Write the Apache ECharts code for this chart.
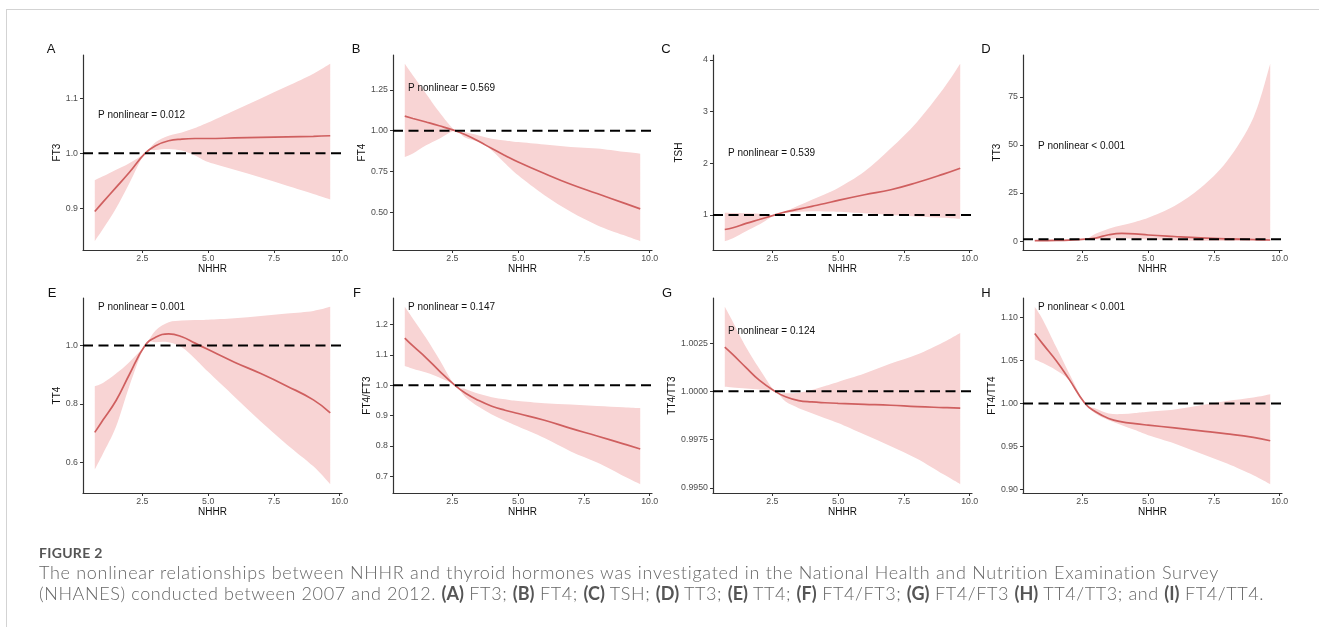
<!DOCTYPE html>
<html>
<head>
<meta charset="utf-8">
<title>NHHR and thyroid hormones</title>
<script src="https://cdn.jsdelivr.net/npm/echarts@6/dist/echarts.min.js"></script>
<style>
    body { margin: 0; background: #fff; }
    #wrap { position: relative; width: 1319px; height: 627px; overflow: hidden; }
    #main { position: absolute; left: 0; top: 0; width: 1319px; height: 627px; }
    #frame { position: absolute; left: 6px; top: 9px; right: -2px; bottom: -2px;
             border-top: 1px solid #d3d3d3; border-left: 1px solid #d3d3d3; pointer-events: none; }
    #cap { position: absolute; left: 39px; top: 544px; width: 1270px;
           font-family: Lato, "Open Sans", sans-serif; color: #666; }
    #cap .fig { font-size: 14px; font-weight: 700; color: #555; line-height: 18px; letter-spacing: 0.3px; }
    #cap .txt { font-size: 18px; font-weight: 300; line-height: 21px; white-space: nowrap; letter-spacing: 0.7px; }
    #cap .l2 { letter-spacing: 0.6px; }
    #cap b { font-weight: 700; color: #555; letter-spacing: 0; }
</style>
</head>
<body>
<div id="wrap">
    <div id="main"></div>
    <div id="frame"></div>
    <div id="cap">
        <div class="fig">FIGURE 2</div>
        <div class="txt">The nonlinear relationships between NHHR and thyroid hormones was investigated in the National Health and Nutrition Examination Survey<br><span class="l2">(NHANES) conducted between 2007 and 2012. <b>(A)</b> FT3; <b>(B)</b> FT4; <b>(C)</b> TSH; <b>(D)</b> TT3; <b>(E)</b> TT4; <b>(F)</b> FT4/FT3; <b>(G)</b> FT4/FT3 <b>(H)</b> TT4/TT3; and <b>(I)</b> FT4/TT4.</span></div>
    </div>
</div>
<script>
// NHHR values shared by every panel
var xs = [0.69, 1.0, 1.5, 2.0, 2.6, 3.0, 3.5, 4.0, 4.5, 5.0, 6.0, 7.0, 8.0, 9.0, 9.64];
var xTicks = [2.5, 5.0, 7.5, 10.0];

// A FT3
var ft3Fit = [0.894, 0.911, 0.938, 0.965, 1.0, 1.014, 1.023, 1.026, 1.027, 1.027, 1.028, 1.029, 1.030, 1.031, 1.032];
var ft3Low = [0.840, 0.862, 0.900, 0.945, 1.0, 1.006, 1.008, 1.005, 0.996, 0.984, 0.970, 0.956, 0.941, 0.926, 0.916];
var ft3Up  = [0.951, 0.958, 0.970, 0.982, 1.0, 1.020, 1.032, 1.038, 1.046, 1.056, 1.078, 1.100, 1.122, 1.145, 1.163];
var ft3Ticks = [0.9, 1.0, 1.1];

// B FT4
var ft4Fit = [1.089, 1.075, 1.053, 1.030, 1.0, 0.975, 0.935, 0.890, 0.848, 0.808, 0.737, 0.671, 0.614, 0.557, 0.520];
var ft4Low = [0.838, 0.860, 0.910, 0.951, 1.0, 0.957, 0.930, 0.879, 0.800, 0.726, 0.604, 0.502, 0.420, 0.359, 0.322];
var ft4Up  = [1.410, 1.339, 1.227, 1.114, 1.0, 0.990, 0.971, 0.950, 0.940, 0.930, 0.915, 0.900, 0.890, 0.870, 0.859];
var ft4Ticks = [0.50, 0.75, 1.00, 1.25];

// C TSH
var tshFit = [0.717, 0.750, 0.836, 0.910, 1.0, 1.057, 1.110, 1.165, 1.220, 1.281, 1.390, 1.487, 1.627, 1.790, 1.904];
var tshLow = [0.492, 0.550, 0.685, 0.813, 1.0, 1.040, 1.060, 1.070, 1.065, 1.060, 1.030, 1.000, 0.970, 0.945, 0.923];
var tshUp  = [1.040, 1.035, 1.030, 1.020, 1.0, 1.070, 1.180, 1.294, 1.400, 1.519, 1.838, 2.288, 2.800, 3.440, 3.923];
var tshTicks = [1, 2, 3, 4];

// D TT3
var tt3Fit = [0.2, 0.25, 0.35, 0.55, 1.0, 1.6, 3.3, 4.0, 3.8, 3.2, 2.4, 1.7, 1.2, 0.85, 0.6];
var tt3Low = [0.0, 0.05, 0.1, 0.3, 1.0, 1.0, 1.3, 1.5, 1.2, 0.8, 0.4, 0.2, 0.1, 0.05, 0.03];
var tt3Up  = [0.8, 0.75, 0.7, 0.8, 1.0, 3.8, 6.5, 8.3, 10.0, 12.1, 18.2, 27.7, 41.6, 64.1, 92.1];
var tt3Ticks = [0, 25, 50, 75];

// E TT4
var tt4Fit = [0.703, 0.745, 0.812, 0.900, 1.0, 1.028, 1.040, 1.030, 1.008, 0.986, 0.943, 0.904, 0.861, 0.814, 0.770];
var tt4Low = [0.576, 0.630, 0.723, 0.860, 1.0, 1.011, 1.011, 0.994, 0.955, 0.910, 0.825, 0.740, 0.661, 0.587, 0.526];
var tt4Up  = [0.861, 0.872, 0.904, 0.943, 1.0, 1.051, 1.079, 1.085, 1.087, 1.088, 1.093, 1.101, 1.109, 1.118, 1.132];
var tt4Ticks = [0.6, 0.8, 1.0];

// F FT4/FT3
var f43Fit = [1.156, 1.130, 1.091, 1.048, 1.0, 0.974, 0.950, 0.931, 0.918, 0.907, 0.885, 0.858, 0.833, 0.807, 0.790];
var f43Low = [1.064, 1.055, 1.042, 1.026, 1.0, 0.961, 0.929, 0.904, 0.883, 0.864, 0.826, 0.782, 0.745, 0.701, 0.674];
var f43Up  = [1.259, 1.220, 1.156, 1.086, 1.0, 0.988, 0.972, 0.961, 0.954, 0.948, 0.941, 0.937, 0.932, 0.928, 0.925];
var f43Ticks = [0.7, 0.8, 0.9, 1.0, 1.1, 1.2];

// G TT4/TT3
var t43Fit = [1.00229, 1.00190, 1.00123, 1.00058, 1.0, 0.99972, 0.99952, 0.99945, 0.99941, 0.99938, 0.99933, 0.99928, 0.99921, 0.99916, 0.99913];
var t43Low = [1.00024, 1.00020, 1.00015, 1.00010, 1.0, 0.99947, 0.99913, 0.99887, 0.99861, 0.99836, 0.99776, 0.99716, 0.99651, 0.99570, 0.99519];
var t43Up  = [1.00438, 1.00360, 1.00229, 1.00118, 1.0, 0.99990, 0.99993, 1.00007, 1.00028, 1.00049, 1.00092, 1.00144, 1.00191, 1.00255, 1.00303];
var t43Ticks = [0.9950, 0.9975, 1.0000, 1.0025];

// H FT4/TT4
var f4t4Fit = [1.0814, 1.0690, 1.0500, 1.0280, 1.0, 0.9903, 0.9826, 0.9786, 0.9765, 0.9748, 0.9716, 0.9682, 0.9647, 0.9605, 0.9566];
var f4t4Low = [1.0512, 1.0470, 1.0387, 1.0271, 1.0, 0.9884, 0.9806, 0.9748, 0.9690, 0.9631, 0.9535, 0.9419, 0.9302, 0.9166, 0.9062];
var f4t4Up  = [1.1123, 1.0970, 1.0658, 1.0349, 1.0, 0.9942, 0.9884, 0.9876, 0.9888, 0.9903, 0.9930, 0.9980, 1.0030, 1.0070, 1.0108];
var f4t4Ticks = [0.90, 0.95, 1.00, 1.05, 1.10];

var pTexts = ['P nonlinear = 0.012', 'P nonlinear = 0.569', 'P nonlinear = 0.539', 'P nonlinear < 0.001',
              'P nonlinear = 0.001', 'P nonlinear = 0.147', 'P nonlinear = 0.124', 'P nonlinear < 0.001'];

var lineColor = '#cf5f5f';
var bandColor = '#f8d4d4';
var fontName = '"Liberation Sans", Arial, sans-serif';

window.onload = function () {
    drawPanels();
};

// smooth path through pixel points (catmull-rom -> bezier)
var smoothPath = function (pts, moveFirst) {
    var d = moveFirst ? 'M' + pts[0][0] + ',' + pts[0][1] : 'L' + pts[0][0] + ',' + pts[0][1];
    for (var i = 0; i < pts.length - 1; i++) {
        var p0 = pts[i - 1] || pts[i];
        var p1 = pts[i];
        var p2 = pts[i + 1];
        var p3 = pts[i + 2] || p2;
        var c1x = p1[0] + (p2[0] - p0[0]) / 6, c1y = p1[1] + (p2[1] - p0[1]) / 6;
        var c2x = p2[0] - (p3[0] - p1[0]) / 6, c2y = p2[1] - (p3[1] - p1[1]) / 6;
        d += 'C' + c1x + ',' + c1y + ' ' + c2x + ',' + c2y + ' ' + p2[0] + ',' + p2[1];
    }
    return d;
};

var drawPanels = function () {
    var panels = [
        {letter: 'A', yName: 'FT3',     fit: ft3Fit,  low: ft3Low,  up: ft3Up,  ticks: ft3Ticks,  dec: 1, left: 83,   top: 55,  gap: 17, lx: 51,  ly: 49,  px: 98,   py: 115},
        {letter: 'B', yName: 'FT4',     fit: ft4Fit,  low: ft4Low,  up: ft4Up,  ticks: ft4Ticks,  dec: 2, left: 393,  top: 55,  gap: 17, lx: 356, ly: 49,  px: 408,  py: 88},
        {letter: 'C', yName: 'TSH',     fit: tshFit,  low: tshLow,  up: tshUp,  ticks: tshTicks,  dec: 0, left: 713,  top: 55,  gap: 29, lx: 666, ly: 49,  px: 728,  py: 153},
        {letter: 'D', yName: 'TT3',     fit: tt3Fit,  low: tt3Low,  up: tt3Up,  ticks: tt3Ticks,  dec: 0, left: 1023, top: 55,  gap: 21, lx: 986, ly: 49,  px: 1038, py: 146},
        {letter: 'E', yName: 'TT4',     fit: tt4Fit,  low: tt4Low,  up: tt4Up,  ticks: tt4Ticks,  dec: 1, left: 83,   top: 298, gap: 18, lx: 52,  ly: 293, px: 98,   py: 307},
        {letter: 'F', yName: 'FT4/FT3', fit: f43Fit,  low: f43Low,  up: f43Up,  ticks: f43Ticks,  dec: 1, left: 393,  top: 298, gap: 21, lx: 357, ly: 293, px: 408,  py: 307},
        {letter: 'G', yName: 'TT4/TT3', fit: t43Fit,  low: t43Low,  up: t43Up,  ticks: t43Ticks,  dec: 4, left: 713,  top: 298, gap: 31, lx: 667, ly: 293, px: 728,  py: 331},
        {letter: 'H', yName: 'FT4/TT4', fit: f4t4Fit, low: f4t4Low, up: f4t4Up, ticks: f4t4Ticks, dec: 2, left: 1023, top: 298, gap: 21, lx: 986, ly: 293, px: 1038, py: 307}
    ];

    // ggplot style 5% padding around the data
    var xMin = xs[0] - (xs[xs.length - 1] - xs[0]) * 0.05;
    var xMax = xs[xs.length - 1] + (xs[xs.length - 1] - xs[0]) * 0.05;

    var grid = [], xAxis = [], yAxis = [], series = [], graphic = [];

    panels.forEach(function (p, i) {
        var lo = Math.min.apply(null, p.low);
        var hi = Math.max.apply(null, p.up);
        var pad = (hi - lo) * 0.05;

        grid.push({left: p.left, top: p.top, width: 259, height: 195, containLabel: false, outerBoundsMode: 'none'});

        xAxis.push({
            gridIndex: i, type: 'value', min: xMin, max: xMax,
            name: 'NHHR', nameLocation: 'middle', nameGap: 12,
            nameTextStyle: {color: '#111', fontSize: 10, fontFamily: fontName},
            axisLine: {show: true, onZero: false, lineStyle: {color: '#333', width: 1.2}},
            axisTick: {show: true, length: 3, customValues: xTicks, lineStyle: {color: '#333', width: 1}},
            axisLabel: {customValues: xTicks, color: '#4d4d4d', fontSize: 8.8, margin: 4, fontFamily: fontName,
                formatter: function (v) { return v.toFixed(1); }},
            splitLine: {show: false}
        });

        yAxis.push({
            gridIndex: i, type: 'value', min: lo - pad, max: hi + pad,
            name: p.yName, nameLocation: 'middle', nameGap: p.gap,
            nameTextStyle: {color: '#111', fontSize: 10, fontFamily: fontName},
            axisLine: {show: true, onZero: false, lineStyle: {color: '#333', width: 1.2}},
            axisTick: {show: true, length: 3, customValues: p.ticks, lineStyle: {color: '#333', width: 1}},
            axisLabel: {customValues: p.ticks, color: '#4d4d4d', fontSize: 8.8, margin: 5, fontFamily: fontName,
                formatter: (function (d) { return function (v) { return v.toFixed(d); }; })(p.dec)},
            splitLine: {show: false}
        });

        // confidence band: upper edge forward, lower edge back, through the axis scales
        series.push({
            type: 'custom', xAxisIndex: i, yAxisIndex: i, silent: true, z: 1,
            data: [[xs[0], p.low[0]]],
            renderItem: (function (band) {
                return function (params, api) {
                    var upPts = xs.map(function (x, j) { return api.coord([x, band.up[j]]); });
                    var lowPts = xs.map(function (x, j) { return api.coord([x, band.low[j]]); }).reverse();
                    var d = smoothPath(upPts, true) + smoothPath(lowPts, false) + 'Z';
                    return {type: 'path', shape: {pathData: d}, style: {fill: bandColor, stroke: null}};
                };
            })(p)
        });
        // fitted curve
        series.push({
            type: 'line', xAxisIndex: i, yAxisIndex: i,
            data: xs.map(function (x, j) { return [x, p.fit[j]]; }),
            symbol: 'none', smooth: 0.45, silent: true,
            lineStyle: {color: lineColor, width: 1.7}, z: 2
        });
        // reference line at 1
        series.push({
            type: 'line', xAxisIndex: i, yAxisIndex: i,
            data: [[xMin, 1], [xMax, 1]],
            symbol: 'none', silent: true,
            lineStyle: {color: '#000', width: 2, type: [10, 5.5]}, z: 3
        });

        graphic.push({
            type: 'text', x: p.lx, y: p.ly, z: 100,
            style: {text: p.letter, fill: '#111', fontSize: 13, fontFamily: fontName,
                align: 'center', verticalAlign: 'middle'}
        });
        graphic.push({
            type: 'text', x: p.px, y: p.py, z: 100,
            style: {text: pTexts[i], fill: '#111', fontSize: 10, fontFamily: fontName,
                align: 'left', verticalAlign: 'middle'}
        });
    });

    var myChart = echarts.init(document.getElementById('main'));
    myChart.setOption({
        animation: false,
        backgroundColor: '#fff',
        textStyle: {fontFamily: fontName},
        grid: grid,
        xAxis: xAxis,
        yAxis: yAxis,
        series: series,
        graphic: graphic
    });
};
</script>
</body>
</html>
